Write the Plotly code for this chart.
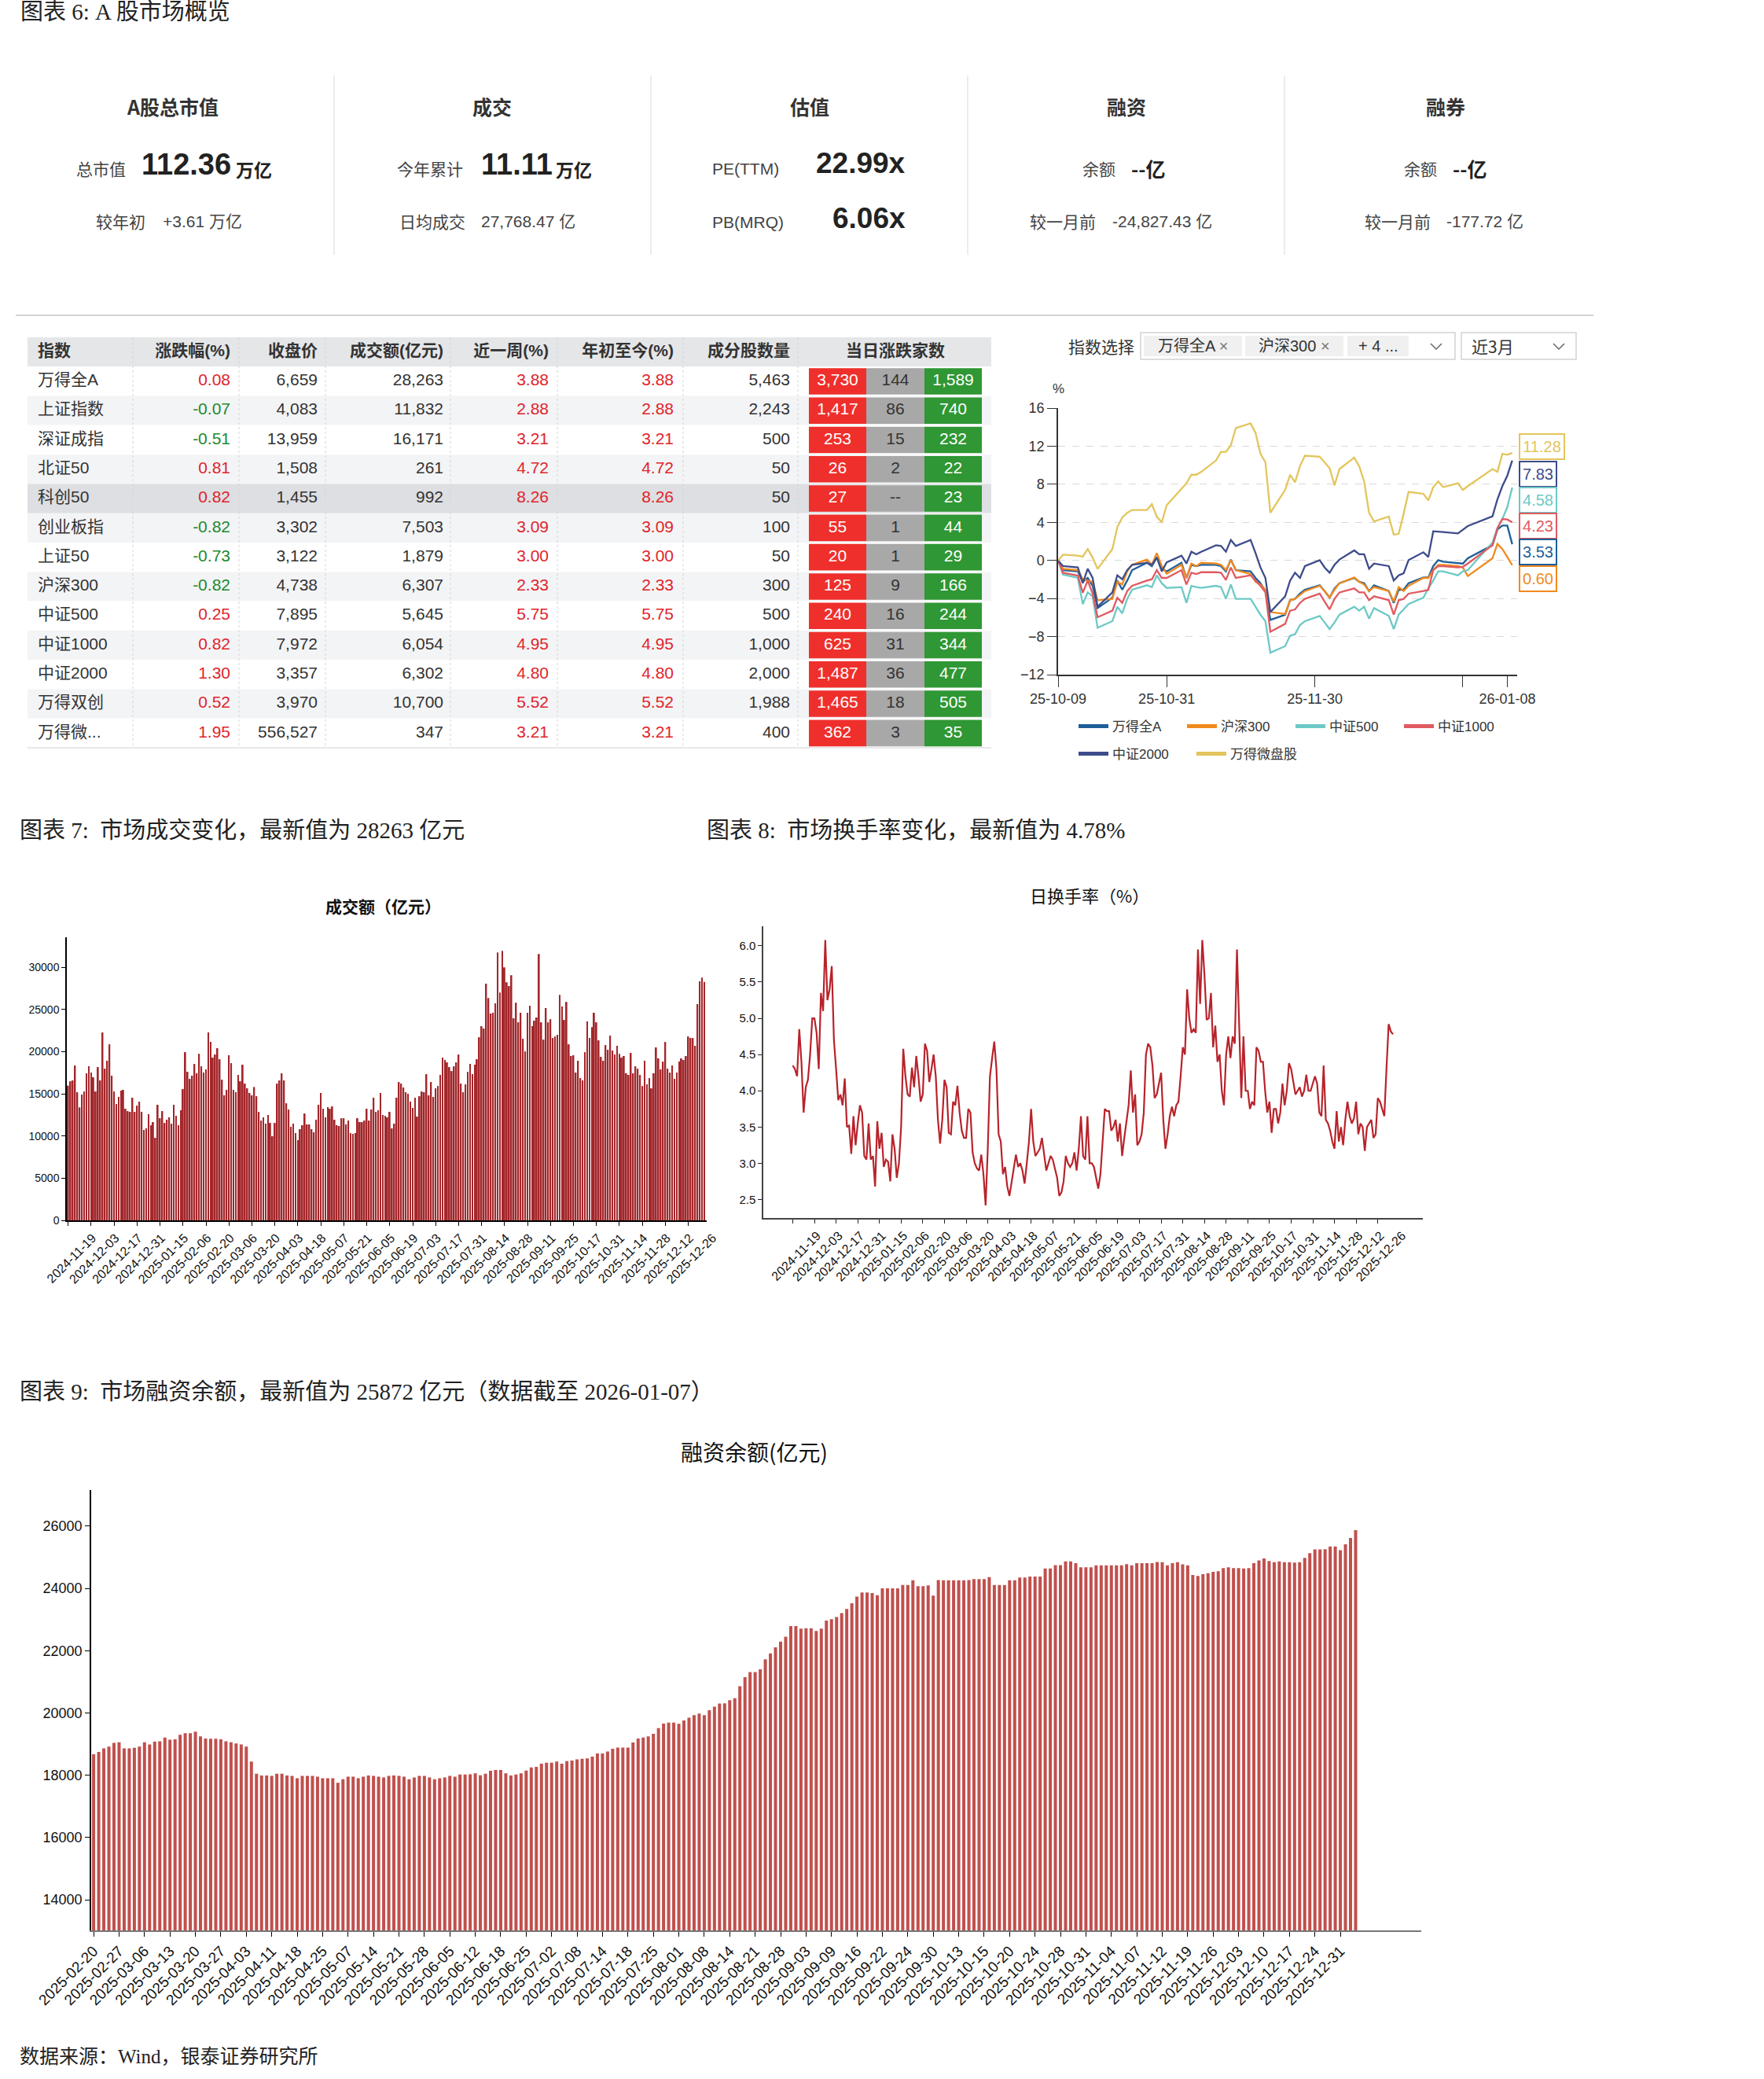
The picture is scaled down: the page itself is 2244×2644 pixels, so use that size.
import plotly.graph_objects as go

W, H = 2244, 2644
def X(p): return p / W
def Y(p): return 1 - p / H

SANS = "Liberation Sans, Noto Sans CJK SC, sans-serif"
CJK = "Noto Sans CJK SC, Liberation Sans, sans-serif"
SERIF = "Liberation Serif, Noto Sans CJK SC, serif"
DARK = "#333333"
UP_C = "#e0242b"
DN_C = "#1e8a2c"

# ------------------------------------------------------------------ data
kpi_headers = ["A股总市值", "成交", "估值", "融资", "融券"]
mcap_total, mcap_chg = "112.36", "+3.61"
turnover_ytd, turnover_avg = "11.11", "27,768.47"
pe_ttm, pb_mrq = "22.99", "6.06"
fin_bal, fin_chg = "--", "-24,827.43"
sec_bal, sec_chg = "--", "-177.72"

tbl_header = ["指数", "涨跌幅(%)", "收盘价", "成交额(亿元)", "近一周(%)", "年初至今(%)", "成分股数量", "当日涨跌家数"]
idx_names = ["万得全A", "上证指数", "深证成指", "北证50", "科创50", "创业板指", "上证50",
             "沪深300", "中证500", "中证1000", "中证2000", "万得双创", "万得微..."]
pct_chg = [0.08, -0.07, -0.51, 0.81, 0.82, -0.82, -0.73, -0.82, 0.25, 0.82, 1.30, 0.52, 1.95]
close_px = [6659, 4083, 13959, 1508, 1455, 3302, 3122, 4738, 7895, 7972, 3357, 3970, 556527]
amount = [28263, 11832, 16171, 261, 992, 7503, 1879, 6307, 5645, 6054, 6302, 10700, 347]
week_chg = [3.88, 2.88, 3.21, 4.72, 8.26, 3.09, 3.00, 2.33, 5.75, 4.95, 4.80, 5.52, 3.21]
ytd_chg = [3.88, 2.88, 3.21, 4.72, 8.26, 3.09, 3.00, 2.33, 5.75, 4.95, 4.80, 5.52, 3.21]
members = [5463, 2243, 500, 50, 50, 100, 50, 300, 500, 1000, 2000, 1988, 400]
n_up = [3730, 1417, 253, 26, 27, 55, 20, 125, 240, 625, 1487, 1465, 362]
n_flat = [144, 86, 15, 2, None, 1, 1, 9, 16, 31, 36, 18, 3]
n_down = [1589, 740, 232, 22, 23, 44, 29, 166, 244, 344, 477, 505, 35]

idx_dates = ["2025-10-09", "2025-10-10", "2025-10-13", "2025-10-14", "2025-10-15", "2025-10-16", "2025-10-17",
             "2025-10-20", "2025-10-21", "2025-10-22", "2025-10-23", "2025-10-24", "2025-10-27", "2025-10-28",
             "2025-10-29", "2025-10-30", "2025-10-31", "2025-11-03", "2025-11-04", "2025-11-05", "2025-11-06",
             "2025-11-07", "2025-11-10", "2025-11-11", "2025-11-12", "2025-11-13", "2025-11-14", "2025-11-17",
             "2025-11-18", "2025-11-19", "2025-11-20", "2025-11-21", "2025-11-24", "2025-11-25", "2025-11-26",
             "2025-11-27", "2025-11-28", "2025-12-01", "2025-12-02", "2025-12-03", "2025-12-04", "2025-12-05",
             "2025-12-08", "2025-12-09", "2025-12-10", "2025-12-11", "2025-12-12", "2025-12-15", "2025-12-16",
             "2025-12-17", "2025-12-18", "2025-12-19", "2025-12-22", "2025-12-23", "2025-12-24", "2025-12-25",
             "2025-12-26", "2025-12-29", "2025-12-30", "2025-12-31", "2026-01-05", "2026-01-06", "2026-01-07",
             "2026-01-08", "2026-01-09"]
ret_wind_all = [0, -1.02, -1.15, -2.25, -1.84, -2.67, -5.01, -3.91, -2.12, -3.08, -2.12, -1.02, -0.24, -0.6, 0.31, -0.88, -1.15,
                -0.24, -1.84, -0.46, -0.6, -0.46, -0.46, -0.6, -1.15, 0.09, -1.02,
                -1.15, -1.84, -2.39, -3.22, -6.25, -5.7, -4.18, -4.04, -3.49, -3.08,
                -2.61, -3.22, -3.91, -2.94, -2.39, -1.84, -2.25, -2.39, -3.22, -2.61,
                -3.22, -4.46, -3.08, -3.08, -2.39, -1.79, -1.79, -0.6, 0.03, -0.13,
                -0.24, -0.33, 0.22, 1.6, 3.25, 3.66, 3.66, 1.7]
ret_hs300 = [0, -0.88, -1.02, -1.98, -2.12, -2.25, -4.18, -4.04, -2.25, -2.53, -1.15, -0.46, 0.09, -0.46, 0.77, -0.6, -1.4,
             -0.46, -1.84, -0.33, -0.6, -0.24, -0.33, -0.46, -1.02, 0.03, -1.02,
             -1.43, -2.25, -2.53, -3.08, -5.42, -5.64, -4.18, -4.04, -3.63, -3.22,
             -2.67, -3.22, -3.91, -3.08, -2.39, -1.79, -2.25, -2.53, -3.22, -2.8,
             -3.22, -4.32, -2.8, -3.22, -2.67, -1.84, -1.84, -1.02, -0.46, -0.46,
             -0.6, -0.74, -1.65, 0.22, 1.74, 1.2, 0.36, -0.5]
ret_zz500 = [0, -1.5, -1.84, -4.59, -3.36, -3.77, -7.07, -6.38, -4.87, -5.56, -4.04, -3.08, -2.61, -2.8, -1.57, -2.39, -2.89,
             -2.8, -4.46, -2.67, -2.8, -2.89, -2.67, -2.8, -4.04, -2.53, -4.04,
             -4.04, -4.87, -5.7, -6.38, -9.69, -9.0, -7.9, -7.76, -6.8, -6.38,
             -5.83, -6.52, -7.21, -6.52, -5.7, -4.87, -5.28, -4.87, -6.11, -5.01,
             -5.83, -7.21, -5.7, -5.15, -4.59, -3.91, -2.94, -2.12, -1.15, -1.15,
             -1.57, -1.15, -1.02, 1.88, 3.39, 4.35, 5.59, 7.66]
ret_zz1000 = [0, -1.3, -1.6, -3.4, -2.12, -3.49, -5.97, -5.28, -3.91, -4.46, -3.22, -2.67, -2.12, -1.98, -1.02, -1.84, -1.84,
              -1.02, -2.53, -1.29, -1.43, -1.24, -1.24, -1.29, -2.06, -0.74, -1.84,
              -1.57, -2.12, -2.67, -3.36, -7.49, -6.66, -5.28, -5.15, -4.46, -4.04,
              -3.49, -4.32, -5.15, -4.04, -3.36, -2.94, -3.36, -3.36, -4.18, -3.77,
              -4.18, -5.7, -4.18, -4.04, -3.49, -3.22, -3.08, -1.02, -0.6, -0.6,
              -0.74, -0.67, -0.33, 1.6, 3.39, 4.35, 4.3, 4.0]
ret_zz2000 = [0, -0.6, -0.74, -2.39, -0.88, -1.84, -4.87, -3.36, -1.57, -1.98, -1.02, -0.46, -0.24, -0.46, 0.31, -1.15, -0.2,
              0.5, -0.33, 0.91, 0.64, 0.91, 1.6, 1.52, 0.91, 2.15, 1.52,
              2.15, 0.77, -0.74, -1.84, -5.42, -3.77, -2.12, -1.29, -1.84, -0.6,
              0.03, -0.74, -1.29, -0.46, 0.09, 1.05, 0.64, 0.64, -0.88, -0.33,
              -0.6, -2.12, -1.57, -1.35, 0.03, 0.86, 0.36, 3.06, 3.03, 2.98,
              2.84, 3.25, 3.61, 4.63, 6.42, 7.8, 8.9, 10.5]
ret_micro = [0, 0.6, 0.5, 0.4, 1.2, 0.3, -0.9, 1.2, 3.5, 4.5, 5.0, 5.3, 5.3, 5.9, 4.6, 4.0, 5.8,
             7.5, 8.1, 9.0, 9.0, 9.3, 10.5, 11.4, 11.4, 12.1, 13.9,
             14.4, 13.4, 11.2, 10.3, 5.0, 7.4, 9.0, 8.2, 9.9, 11.0,
             10.9, 10.3, 9.7, 7.9, 9.6, 10.8, 9.9, 8.3, 5.0, 4.1,
             4.6, 2.7, 2.8, 4.9, 7.2, 7.0, 6.3, 7.7, 8.3, 7.7,
             8.1, 7.4, 7.8, 9.6, 9.3, 11.2, 11.1, 11.28]
series_names = ["万得全A", "沪深300", "中证500", "中证1000", "中证2000", "万得微盘股"]
end_labels = ["11.28", "7.83", "4.58", "4.23", "3.53", "0.60"]
end_label_series = ["万得微盘股", "中证2000", "中证500", "中证1000", "万得全A", "沪深300"]
idx_tick_vals = ["2025-10-09", "2025-10-31", "2025-11-30", "2025-12-30", "2026-01-08"]
idx_tick_text = ["25-10-09", "25-10-31", "25-11-30", "", "26-01-08"]

vol_tick_labels = ["2024-11-19", "2024-12-03", "2024-12-17", "2024-12-31", "2025-01-15", "2025-02-06", "2025-02-20",
                   "2025-03-06", "2025-03-20", "2025-04-03", "2025-04-18", "2025-05-07", "2025-05-21", "2025-06-05",
                   "2025-06-19", "2025-07-03", "2025-07-17", "2025-07-31", "2025-08-14", "2025-08-28", "2025-09-11",
                   "2025-09-25", "2025-10-17", "2025-10-31", "2025-11-14", "2025-11-28", "2025-12-12", "2025-12-26"]
turnover_amt = [15970, 16490, 16590, 18360, 15190, 13390, 14910, 15280, 17430, 18260,
                17520, 16960, 15280, 18170, 16590, 22270, 17980, 18920, 20870, 17150,
                15280, 13790, 14630, 15380, 15470, 13230, 12950, 12860, 14540, 12860,
                13600, 14070, 12860, 10720, 10900, 12580, 11280, 11650, 9780, 13700,
                12110, 12950, 11550, 11930, 12210, 11460, 13700, 12390, 11280, 13050,
                15560, 19940, 17610, 16770, 17150, 18540, 17430, 19750, 18260, 17520,
                17890, 22270, 21150, 19290, 19660, 20410, 19100, 16680, 14820, 15470,
                19570, 18640, 15470, 15190, 17240, 16490, 18450, 16210, 15650, 15100,
                14820, 15810, 14720, 12860, 11830, 12210, 11460, 12490, 11550, 9970,
                11550, 16210, 16590, 17430, 16590, 13880, 13140, 11090, 11460, 10340,
                9500, 10810, 11280, 12670, 11370, 11370, 10810, 10440, 11930, 13700,
                15100, 13230, 12210, 13420, 13230, 13510, 11930, 11280, 11180, 12110,
                12110, 11370, 11830, 10340, 10250, 10340, 12110, 11650, 11650, 11830,
                13230, 11830, 13140, 14540, 12860, 13050, 15100, 12490, 12390, 12210,
                12860, 10900, 11460, 14540, 16400, 16210, 15750, 15190, 15000, 14070,
                13330, 14540, 12300, 14720, 15280, 15190, 17330, 14820, 16400, 14630,
                15650, 15930, 17240, 19290, 19010, 18730, 18170, 17700, 18260, 18730,
                19660, 16210, 15190, 16120, 17610, 18540, 17330, 18450, 19100, 21710,
                23020, 22740, 28050, 26370, 24510, 24600, 25720, 31770, 27020, 31960,
                30000, 28230, 27770, 29070, 23950, 25810, 23480, 24600, 21530, 20030,
                24600, 25440, 23020, 23670, 24040, 31590, 23480, 21430, 25160, 23480,
                23850, 21620, 21800, 21990, 26740, 25350, 23760, 25900, 20870, 19480,
                19570, 17520, 18920, 16870, 16590, 19940, 23580, 21620, 22920, 24600,
                23480, 21340, 19380, 18920, 20780, 20220, 21900, 20130, 19660, 20690,
                19750, 19290, 19480, 17430, 17240, 19850, 17430, 18260, 17980, 17240,
                15930, 18920, 16120, 16870, 15650, 17430, 20500, 19200, 17890, 18820,
                21150, 17980, 17520, 18360, 16770, 17520, 18820, 19200, 19010, 19480,
                21800, 21620, 21620, 20690, 25630, 28330, 28790, 28263]
turnover_rate = [4.35, 4.30, 4.20, 4.85, 4.40, 3.70, 4.05, 4.15, 4.50, 5.00,
                 5.00, 4.80, 4.30, 5.35, 5.10, 6.08, 5.25, 5.40, 5.72, 4.70,
                 4.30, 3.87, 3.95, 3.80, 4.17, 3.50, 3.52, 3.13, 3.65, 3.25,
                 3.55, 3.80, 3.70, 3.10, 3.05, 3.55, 3.05, 3.10, 2.68, 3.58,
                 3.20, 3.42, 2.95, 3.05, 3.02, 2.75, 3.40, 3.20, 2.80, 3.00,
                 3.50, 4.58, 4.20, 3.95, 3.92, 4.32, 4.05, 4.48, 4.20, 3.85,
                 3.95, 4.65, 4.55, 4.12, 4.30, 4.50, 4.20, 3.60, 3.27, 3.60,
                 4.15, 4.05, 3.42, 3.40, 3.85, 3.80, 4.07, 3.70, 3.45, 3.35,
                 3.35, 3.75, 3.70, 3.15, 3.00, 2.93, 2.90, 3.12, 2.85, 2.42,
                 3.20, 4.20, 4.45, 4.68, 4.30, 3.40, 3.30, 2.85, 2.95, 2.68,
                 2.55, 2.75, 2.90, 3.12, 2.95, 3.00, 2.90, 2.72, 3.00, 3.30,
                 3.75, 3.30, 3.10, 3.15, 3.20, 3.35, 3.10, 2.90, 3.00, 3.10,
                 3.05, 2.93, 2.80, 2.55, 2.60, 2.75, 3.10, 3.00, 2.95, 3.00,
                 3.15, 2.90, 3.20, 3.65, 3.10, 3.05, 3.65, 3.00, 3.00, 2.95,
                 2.80, 2.65, 2.85, 3.35, 3.75, 3.72, 3.72, 3.45, 3.50, 3.60,
                 3.30, 3.55, 3.10, 3.35, 3.55, 3.80, 4.28, 3.70, 3.95, 3.25,
                 3.30, 3.40, 3.70, 4.50, 4.65, 4.60, 4.35, 3.90, 3.95, 4.10,
                 4.25, 3.60, 3.20, 3.40, 3.65, 3.78, 3.65, 3.80, 3.85, 4.20,
                 4.60, 4.50, 5.40, 5.00, 4.80, 4.85, 4.80, 5.95, 5.20, 6.08,
                 5.60, 4.98, 5.00, 5.35, 4.60, 4.90, 4.40, 4.50, 4.00, 3.80,
                 4.50, 4.75, 4.45, 4.75, 4.65, 5.95, 5.00, 3.90, 4.75, 4.00,
                 4.00, 3.75, 3.85, 3.80, 4.60, 4.55, 4.40, 4.40, 4.00, 3.70,
                 3.85, 3.42, 3.75, 3.75, 3.55, 3.70, 4.10, 3.80, 4.00, 4.38,
                 4.30, 4.10, 3.95, 4.00, 4.05, 3.92, 4.00, 4.22, 4.00, 4.00,
                 4.10, 4.20, 4.10, 3.70, 3.65, 4.35, 3.60, 3.55, 3.45, 3.30,
                 3.20, 3.72, 3.30, 3.50, 3.25, 3.60, 3.85, 3.65, 3.55, 3.62,
                 3.85, 3.40, 3.55, 3.50, 3.17, 3.50, 3.55, 3.60, 3.35, 3.40,
                 3.90, 3.85, 3.75, 3.65, 4.30, 4.92, 4.82, 4.78]

margin_tick_labels = ["2025-02-20", "2025-02-27", "2025-03-06", "2025-03-13", "2025-03-20", "2025-03-27", "2025-04-03",
                      "2025-04-11", "2025-04-18", "2025-04-25", "2025-05-07", "2025-05-14", "2025-05-21", "2025-05-28",
                      "2025-06-05", "2025-06-12", "2025-06-18", "2025-06-25", "2025-07-02", "2025-07-08", "2025-07-14",
                      "2025-07-18", "2025-07-25", "2025-08-01", "2025-08-08", "2025-08-14", "2025-08-21", "2025-08-28",
                      "2025-09-03", "2025-09-09", "2025-09-16", "2025-09-22", "2025-09-24", "2025-09-30", "2025-10-13",
                      "2025-10-15", "2025-10-20", "2025-10-24", "2025-10-28", "2025-10-31", "2025-11-04", "2025-11-07",
                      "2025-11-12", "2025-11-19", "2025-11-26", "2025-12-03", "2025-12-10", "2025-12-17", "2025-12-24",
                      "2025-12-31"]
margin_bal = [18670, 18750, 18860, 18920, 19040, 19060, 18860, 18860, 18880, 18920,
              19060, 18990, 19080, 19090, 19210, 19140, 19150, 19300, 19350, 19350,
              19400, 19250, 19180, 19170, 19170, 19150, 19090, 19060, 19020, 18990,
              18920, 18440, 18050, 17990, 17990, 17980, 18050, 18050, 17990, 17980,
              17900, 17980, 17980, 17980, 17950, 17900, 17900, 17900, 17760, 17870,
              17950, 17950, 17900, 17950, 17990, 17980, 17950, 17930, 17980, 17990,
              17980, 17950, 17870, 17930, 17980, 17980, 17930, 17870, 17900, 17930,
              17980, 17950, 18020, 18020, 18030, 18060, 18000, 18050, 18140, 18170,
              18170, 18060, 17990, 18020, 18060, 18150, 18250, 18270, 18370, 18400,
              18400, 18440, 18370, 18450, 18470, 18510, 18530, 18540, 18600, 18700,
              18700, 18760, 18850, 18890, 18890, 18890, 19050, 19180, 19210, 19250,
              19330, 19510, 19660, 19690, 19690, 19650, 19760, 19850, 19930, 19980,
              19930,
              20090, 20200, 20300, 20310, 20410, 20470, 20860, 21150, 21310, 21310,
              21400, 21720, 21910, 22110, 22290, 22450, 22790, 22790, 22710, 22720,
              22720, 22630, 22710, 22970, 23010, 23080, 23210, 23340, 23520, 23740,
              23870, 23870, 23850, 23780, 24000, 24000, 24000, 24000, 24110, 24110,
              24260, 24070, 24070, 24100, 23770, 24270, 24260, 24260, 24260, 24260,
              24260, 24270, 24300, 24300, 24300, 24360, 24110, 24110, 24110, 24260,
              24260, 24350, 24350, 24380, 24380, 24380, 24640, 24640, 24750, 24750,
              24870, 24870, 24810, 24680, 24680, 24680, 24740, 24740, 24740, 24740,
              24740, 24740, 24780, 24740, 24810, 24810, 24810, 24810, 24850, 24840,
              24740, 24810, 24840, 24770, 24740, 24430, 24400, 24460, 24490, 24530,
              24550, 24650, 24680, 24650, 24650, 24640, 24650, 24810, 24900, 24960,
              24880, 24840, 24870, 24840, 24840, 24830, 24840, 24980, 25130, 25250,
              25250, 25260, 25350, 25350, 25230, 25420, 25620, 25872]

# ------------------------------------------------------------------ styles
series_colors = {"万得全A": "#1d5f98", "沪深300": "#f08a1f", "中证500": "#6dc9c6",
                 "中证1000": "#e05a60", "中证2000": "#3e4c8b", "万得微盘股": "#e3c55c"}
series_data = {"万得全A": ret_wind_all, "沪深300": ret_hs300, "中证500": ret_zz500,
               "中证1000": ret_zz1000, "中证2000": ret_zz2000, "万得微盘股": ret_micro}

fig = go.Figure()

def ann(x, y, text, size, color=DARK, family=SANS, xa="center", ya="middle", bold=False, **kw):
    if bold:
        text = "<b>" + text + "</b>"
    fig.add_annotation(x=X(x), y=Y(y), xref="paper", yref="paper", text=text, showarrow=False,
                       xanchor=xa, yanchor=ya, font=dict(size=size, color=color, family=family), **kw)

def hline(x0, x1, y, color, width=1.5, dash=None):
    fig.add_shape(type="line", xref="paper", yref="paper", x0=X(x0), x1=X(x1), y0=Y(y), y1=Y(y),
                  line=dict(color=color, width=width, dash=dash), layer="above")

def vline(x, y0, y1, color, width=1.5, dash=None):
    fig.add_shape(type="line", xref="paper", yref="paper", x0=X(x), x1=X(x), y0=Y(y0), y1=Y(y1),
                  line=dict(color=color, width=width, dash=dash), layer="above")

def rect(x0, y0, x1, y1, fill, line_color=None, lw=0):
    fig.add_shape(type="rect", xref="paper", yref="paper", x0=X(x0), x1=X(x1), y0=Y(y1), y1=Y(y0),
                  fillcolor=fill, line=dict(color=line_color or fill, width=lw), layer="above")

# ------------------------------------------------------------------ section titles
ann(24, 15, "图表 6: A 股市场概览", 29, "#222", SERIF, xa="left")
ann(23, 1056, "图表 7:  市场成交变化，最新值为 28263 亿元", 29, "#222", SERIF, xa="left")
ann(897, 1056, "图表 8:  市场换手率变化，最新值为 4.78%", 29, "#222", SERIF, xa="left")
ann(23, 1770, "图表 9:  市场融资余额，最新值为 25872 亿元（数据截至 2026-01-07）", 29, "#222", SERIF, xa="left")
ann(23, 2615, "数据来源：Wind，银泰证券研究所", 25, "#222", SERIF, xa="left")

# ------------------------------------------------------------------ KPI strip
kpi_cx = [219, 626, 1030, 1433, 1839]
for cx, h in zip(kpi_cx, kpi_headers):
    ann(cx, 135, h, 25, "#333", CJK, bold=True)
for xd in [425, 828, 1231, 1634]:
    vline(xd, 96, 324, "#e6e6e6", 1.5)

ann(162, 214, "总市值", 21, "#444", CJK, xa="right")
ann(178, 209, mcap_total, 38, "#222", SANS, xa="left", bold=True)
ann(298, 215, "万亿", 23, "#222", CJK, xa="left", bold=True)
ann(187, 281, "较年初", 21, "#444", CJK, xa="right")
ann(205, 281, mcap_chg + " 万亿", 21, "#444", SANS, xa="left")

ann(591, 214, "今年累计", 21, "#444", CJK, xa="right")
ann(610, 209, turnover_ytd, 38, "#222", SANS, xa="left", bold=True)
ann(705, 215, "万亿", 23, "#222", CJK, xa="left", bold=True)
ann(594, 281, "日均成交", 21, "#444", CJK, xa="right")
ann(610, 281, turnover_avg + " 亿", 21, "#444", SANS, xa="left")

ann(904, 214, "PE(TTM)", 21, "#444", SANS, xa="left")
ann(1154, 208, pe_ttm + "x", 37, "#222", SANS, xa="right", bold=True)
ann(904, 282, "PB(MRQ)", 21, "#444", SANS, xa="left")
ann(1154, 277, pb_mrq + "x", 37, "#222", SANS, xa="right", bold=True)

ann(1421, 214, "余额", 21, "#444", CJK, xa="right")
ann(1437, 214, fin_bal + "亿", 25, "#222", CJK, xa="left", bold=True)
ann(1396, 281, "较一月前", 21, "#444", CJK, xa="right")
ann(1413, 281, fin_chg + " 亿", 21, "#444", SANS, xa="left")

ann(1830, 214, "余额", 21, "#444", CJK, xa="right")
ann(1846, 214, sec_bal + "亿", 25, "#222", CJK, xa="left", bold=True)
ann(1822, 281, "较一月前", 21, "#444", CJK, xa="right")
ann(1838, 281, sec_chg + " 亿", 21, "#444", SANS, xa="left")

hline(20, 2027, 401, "#d4d4d4", 2)

# ------------------------------------------------------------------ table (axes x / y)
TL, TR, TT, TB = 35, 1261, 429, 951
TW = TR - TL
n_rows = len(idx_names) + 1
row_fill = ["#e5e6e8"]
for k in range(1, n_rows):
    if idx_names[k - 1] == "科创50":
        row_fill.append("#dddfe2")
    elif k % 2 == 0:
        row_fill.append("#f3f4f6")
    else:
        row_fill.append("#ffffff")
row_c = [r + 0.5 for r in range(n_rows)]
data_c = row_c[1:]
fig.add_trace(go.Bar(y=row_c, x=[TW] * n_rows, base=0, orientation="h", width=1.0,
                     marker=dict(color=row_fill, line=dict(width=0)), xaxis="x", yaxis="y",
                     hoverinfo="skip", showlegend=False))
cell_specs = [(994, 73, "#ef2f2b"), (1067, 74, "#a8a8a8"), (1141, 73, "#2f9733")]
for base, wdt, colr in cell_specs:
    fig.add_trace(go.Bar(y=data_c, x=[wdt] * len(data_c), base=base, orientation="h", width=0.9,
                         marker=dict(color=colr, line=dict(width=0)), xaxis="x", yaxis="y",
                         hoverinfo="skip", showlegend=False))

def col_text(xa, texts, colors, pos, ys, bold=False, size=21):
    if bold:
        texts = ["<b>" + t + "</b>" for t in texts]
    fig.add_trace(go.Scatter(x=[xa] * len(texts), y=ys, text=texts, mode="text", textposition=pos,
                             textfont=dict(family=SANS, size=size, color=colors), xaxis="x", yaxis="y",
                             hoverinfo="skip", showlegend=False, cliponaxis=False))

hdr_x = [13, 258, 369, 529, 663, 822, 970, 1104]
hdr_pos = ["middle right"] + ["middle left"] * 6 + ["middle center"]
fig.add_trace(go.Scatter(x=hdr_x, y=[0.5] * len(hdr_x), text=["<b>" + t + "</b>" for t in tbl_header],
                         mode="text", textposition=hdr_pos, textfont=dict(family=SANS, size=21, color=DARK),
                         xaxis="x", yaxis="y", hoverinfo="skip", showlegend=False, cliponaxis=False))
def sgn_col(v): return UP_C if v > 0 else (DN_C if v < 0 else DARK)
col_text(13, idx_names, [DARK] * 13, "middle right", data_c)
col_text(258, [f"{v:.2f}" for v in pct_chg], [sgn_col(v) for v in pct_chg], "middle left", data_c)
col_text(369, [f"{v:,}" for v in close_px], [DARK] * 13, "middle left", data_c)
col_text(529, [f"{v:,}" for v in amount], [DARK] * 13, "middle left", data_c)
col_text(663, [f"{v:.2f}" for v in week_chg], [sgn_col(v) for v in week_chg], "middle left", data_c)
col_text(822, [f"{v:.2f}" for v in ytd_chg], [sgn_col(v) for v in ytd_chg], "middle left", data_c)
col_text(970, [f"{v:,}" for v in members], [DARK] * 13, "middle left", data_c)
col_text(1030.5, [f"{v:,}" for v in n_up], ["#ffffff"] * 13, "middle center", data_c)
col_text(1104, ["--" if v is None else f"{v:,}" for v in n_flat], [DARK] * 13, "middle center", data_c)
col_text(1177.5, [f"{v:,}" for v in n_down], ["#ffffff"] * 13, "middle center", data_c)
for xs in [169, 304, 414, 573, 709, 869, 1015]:
    vline(xs, TT, TB, "#d5d5d5", 1, "dot")
hline(TL, TR, TB, "#e2e2e2", 1.5)

# ------------------------------------------------------------------ index line chart (x2 / y2)
ann(1445, 440, "指数选择", 21, DARK, CJK, xa="right")
rect(1451, 423, 1851, 457, "#ffffff", "#d2d2d2", 1.5)
rect(1455, 427, 1580, 453, "#f0f0f0")
rect(1584, 427, 1709, 453, "#f0f0f0")
rect(1714, 427, 1792, 453, "#f0f0f0")
ann(1517, 440, "万得全A <span style='color:#777'>×</span>", 20, DARK, SANS)
ann(1646, 440, "沪深300 <span style='color:#777'>×</span>", 20, DARK, SANS)
ann(1753, 440, "+ 4 ...", 20, DARK, SANS)
rect(1859, 423, 2005, 457, "#ffffff", "#d2d2d2", 1.5)
ann(1870, 440, "近3月", 21, DARK, CJK, xa="left")
for cx in [1827, 1983]:
    fig.add_shape(type="path", xref="paper", yref="paper",
                  path=f"M {X(cx-7)},{Y(437)} L {X(cx)},{Y(444)} L {X(cx+7)},{Y(437)}",
                  line=dict(color="#666", width=1.5), layer="above")
ann(1346, 494, "%", 17, DARK, SANS)

for nm in series_names:
    fig.add_trace(go.Scatter(x=idx_dates, y=series_data[nm], mode="lines", name=nm,
                             line=dict(color=series_colors[nm], width=2.3), xaxis="x2", yaxis="y2",
                             showlegend=False, hoverinfo="skip"))
for k, nm in enumerate(series_names):
    fig.add_trace(go.Scatter(x=[None], y=[None], mode="lines", name=nm,
                             line=dict(color=series_colors[nm], width=5), xaxis="x2", yaxis="y2",
                             showlegend=True, legend="legend" if k < 4 else "legend2"))
lab_y = [568, 603, 636, 669, 702, 736]
for lab, nm, yy in zip(end_labels, end_label_series, lab_y):
    c = series_colors[nm]
    wide = len(lab) > 4
    ann(1930 + (31 if wide else 26), yy, lab, 20, c, SANS, bordercolor=c, borderwidth=2,
        bgcolor="#ffffff", borderpad=2, width=51 if wide else 41, height=26)

# ------------------------------------------------------------------ chart 7: turnover amount (x3 / y3)
ann(487, 1152, "成交额（亿元）", 21, "#111", CJK, bold=True)
fig.add_trace(go.Bar(x=list(range(len(turnover_amt))), y=turnover_amt, width=0.62,
                     marker=dict(color="#a3272b", line=dict(width=0)), xaxis="x3", yaxis="y3",
                     showlegend=False, hoverinfo="skip"))

# ------------------------------------------------------------------ chart 8: turnover rate (x4 / y4)
ann(1386, 1138, "日换手率（%）", 22, "#111", CJK)
fig.add_trace(go.Scatter(x=list(range(len(turnover_rate))), y=turnover_rate, mode="lines",
                         line=dict(color="#b8232b", width=2.2), xaxis="x4", yaxis="y4",
                         showlegend=False, hoverinfo="skip"))

# ------------------------------------------------------------------ chart 9: margin balance (x5 / y5)
ann(959, 1846, "融资余额(亿元)", 28, "#111", CJK)
fig.add_trace(go.Bar(x=list(range(len(margin_bal))), y=margin_bal, width=0.62,
                     marker=dict(color="#c0504d", line=dict(width=0)), xaxis="x5", yaxis="y5",
                     showlegend=False, hoverinfo="skip"))

tick_font = dict(family=SANS, size=16, color="#111")
fig.update_layout(
    width=W, height=H, margin=dict(l=0, r=0, t=0, b=0, pad=0, autoexpand=False),
    paper_bgcolor="white", plot_bgcolor="white", barmode="overlay", hovermode=False,
    xaxis=dict(domain=[X(TL), X(TR)], range=[0, TW], visible=False, fixedrange=True, anchor="y"),
    yaxis=dict(domain=[Y(TB), Y(TT)], range=[n_rows, 0], visible=False, fixedrange=True, anchor="x"),
    xaxis2=dict(domain=[X(1346), X(1930)], type="date", range=["2025-10-09", "2026-01-10"],
                tickmode="array", tickvals=idx_tick_vals, ticktext=idx_tick_text,
                ticks="outside", ticklen=14, tickcolor=DARK, showline=True, linecolor=DARK, linewidth=1.5,
                showgrid=False, zeroline=False, tickfont=dict(family=SANS, size=18, color=DARK), anchor="y2"),
    yaxis2=dict(domain=[Y(858), Y(519)], range=[-12, 16], tickmode="array", tickvals=list(range(-12, 17, 4)),
                ticks="outside", ticklen=12, tickcolor=DARK, showline=True, linecolor=DARK, linewidth=1.5,
                showgrid=True, gridcolor="#d9d9d9", griddash="dash", gridwidth=1, zeroline=False,
                tickfont=dict(family=SANS, size=18, color=DARK), anchor="x2"),
    xaxis3=dict(domain=[X(85), X(899)], range=[-0.6, 278], tickmode="array",
                tickvals=list(range(0, 10 * len(vol_tick_labels), 10)), ticktext=vol_tick_labels,
                tickangle=-45, ticks="outside", ticklen=5, tickcolor="#000", showline=True, linecolor="#000",
                linewidth=1.5, showgrid=False, zeroline=False, tickfont=tick_font, anchor="y3",
                ticklabelshift=31),
    yaxis3=dict(domain=[Y(1552), Y(1192)], range=[0, 33560], tickmode="array",
                tickvals=list(range(0, 30001, 5000)), tickformat="d", ticks="outside", ticklen=5, tickcolor="#000",
                showline=True, linecolor="#000", linewidth=1.5, showgrid=False, zeroline=False,
                tickfont=dict(family=SANS, size=14, color="#111"), anchor="x3"),
    xaxis4=dict(domain=[X(971), X(1809.5)], range=[-13.6, 290.6], tickmode="array",
                tickvals=list(range(0, 10 * len(vol_tick_labels), 10)), ticktext=vol_tick_labels,
                tickangle=-45, ticks="outside", ticklen=5, tickcolor="#222", showline=True, linecolor="#444",
                linewidth=1.5, showgrid=False, zeroline=False, tickfont=tick_font, anchor="y4",
                ticklabelshift=31),
    yaxis4=dict(domain=[Y(1549), Y(1178)], range=[2.245, 6.27], tickmode="array",
                tickvals=[2.5, 3.0, 3.5, 4.0, 4.5, 5.0, 5.5, 6.0], tickformat=".1f", ticks="outside", ticklen=5,
                tickcolor="#222", showline=True, linecolor="#444", linewidth=1.5, showgrid=False, zeroline=False,
                tickfont=dict(family=SANS, size=15, color="#111"), anchor="x4"),
    xaxis5=dict(domain=[X(116), X(1808)], range=[-0.48, 260.9], tickmode="array",
                tickvals=list(range(0, 5 * len(margin_tick_labels), 5)), ticktext=margin_tick_labels,
                tickangle=-45, ticks="outside", ticklen=6, tickcolor="#000", showline=True, linecolor="#777",
                linewidth=1.5, showgrid=False, zeroline=False,
                tickfont=dict(family=SANS, size=19, color="#111"), anchor="y5"),
    yaxis5=dict(domain=[Y(2455), Y(1895)], range=[13015, 27160], tickmode="array",
                tickvals=list(range(14000, 26001, 2000)), tickformat="d", ticks="outside", ticklen=6, tickcolor="#000",
                showline=True, linecolor="#000", linewidth=1.5, showgrid=False, zeroline=False,
                tickfont=dict(family=SANS, size=18, color="#111"), anchor="x5"),
    legend=dict(orientation="h", x=X(1367), y=Y(924), xanchor="left", yanchor="middle",
                entrywidth=85, entrywidthmode="pixels", itemwidth=38,
                font=dict(family=SANS, size=17, color=DARK),
                bgcolor="rgba(0,0,0,0)", itemclick=False, itemdoubleclick=False),
    legend2=dict(orientation="h", x=X(1367), y=Y(959), xanchor="left", yanchor="middle",
                 entrywidth=97, entrywidthmode="pixels", itemwidth=38,
                 font=dict(family=SANS, size=17, color=DARK),
                 bgcolor="rgba(0,0,0,0)", itemclick=False, itemdoubleclick=False),
)

fig.write_html("out.html")
